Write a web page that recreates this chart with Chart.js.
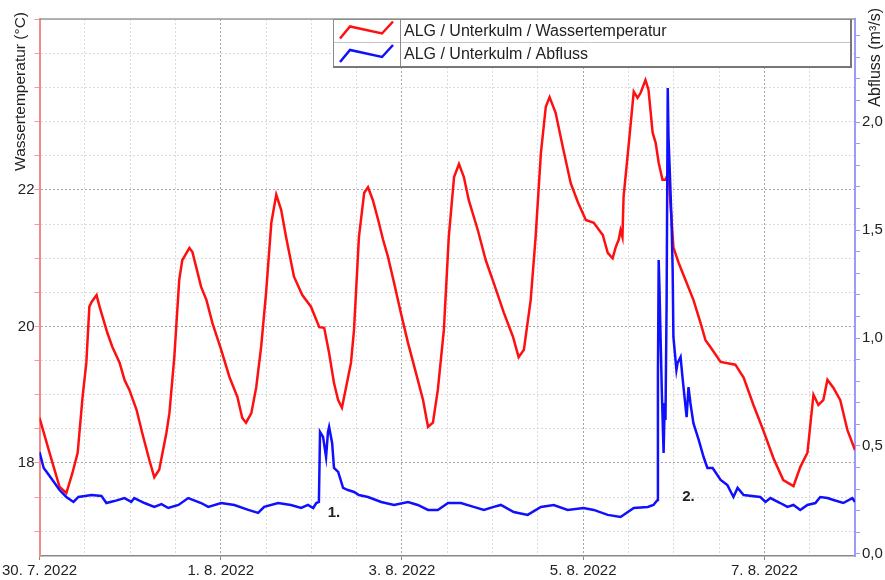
<!DOCTYPE html>
<html>
<head>
<meta charset="utf-8">
<script src="https://cdn.jsdelivr.net/npm/chart.js@4.4.1/dist/chart.umd.min.js"></script>
<style>
html, body { margin: 0; padding: 0; background: #fff; }
</style>
</head>
<body>
<canvas id="chart" width="885" height="580"></canvas>
<script>
// hours since 30. 7. 2022 00:00
const tempHours = [0, 2.6, 5.3, 7.1, 8.7, 10.1, 11.4, 12.4, 13.2, 13.8,
    15.1, 15.9, 16.7, 18.0, 19.3, 21.2, 22.5, 23.8, 25.7, 27.2,
    29.1, 30.4, 31.7, 33.6, 34.4, 35.7, 37.0, 37.8, 39.7, 40.5,
    41.5, 42.8, 44.2, 45.8, 48.1, 50.3, 52.4, 53.7, 54.7, 56.1,
    57.4, 58.7, 60.0, 61.4, 62.7, 64.0, 65.3, 67.4, 69.6, 71.9,
    74.1, 75.4, 76.7, 78.0, 79.1, 80.1, 81.2, 82.5, 83.3, 84.6,
    86.0, 87.0, 88.3, 89.7, 91.0, 92.3, 93.9, 95.7, 97.6, 99.7,
    101.6, 102.9, 104.2, 105.5, 107.1, 108.4, 109.8, 111.1, 112.4, 113.7,
    116.1, 118.2, 120.3, 123.0, 125.4, 126.9, 128.3, 130.1, 131.4, 132.8,
    134.1, 135.1, 136.7, 138.6, 140.7, 142.6, 144.7, 146.8, 149.2, 150.5,
    151.8, 152.6, 153.4, 153.9, 154.4, 154.7, 156.0, 157.4, 158.4, 159.2,
    160.5, 161.3, 162.4, 163.2, 164.0, 165.0, 165.8, 166.6, 167.1, 167.9,
    169.3, 170.6, 173.2, 175.1, 176.4, 177.7, 180.4, 184.3, 186.5, 189.1,
    191.7, 194.4, 197.0, 199.7, 201.5, 203.4, 205.0, 206.3, 207.6, 208.7,
    210.3, 212.1, 214.0, 216];
const tempValues = [18.66, 18.16, 17.65, 17.56, 17.85, 18.15, 18.97, 19.47, 20.29, 20.36,
    20.46, 20.29, 20.14, 19.90, 19.70, 19.47, 19.22, 19.07, 18.78, 18.44,
    18.04, 17.79, 17.90, 18.44, 18.73, 19.55, 20.68, 20.97, 21.15, 21.09,
    20.87, 20.58, 20.39, 20.05, 19.66, 19.26, 18.97, 18.66, 18.59, 18.73,
    19.11, 19.70, 20.49, 21.52, 21.93, 21.71, 21.31, 20.73, 20.46, 20.29,
    19.99, 19.98, 19.61, 19.17, 18.92, 18.81, 19.11, 19.47, 19.95, 21.31,
    21.96, 22.04, 21.85, 21.56, 21.27, 21.02, 20.64, 20.20, 19.76, 19.32,
    18.92, 18.53, 18.59, 19.07, 19.95, 21.31, 22.19, 22.38, 22.19, 21.85,
    21.41, 20.97, 20.64, 20.20, 19.85, 19.55, 19.66, 20.39, 21.31, 22.54,
    23.22, 23.36, 23.13, 22.63, 22.10, 21.82, 21.56, 21.52, 21.34, 21.08,
    21.00, 21.16, 21.27, 21.41, 21.31, 21.90, 22.63, 23.44, 23.35, 23.42,
    23.61, 23.47, 22.84, 22.69, 22.40, 22.15, 22.15, 22.25, 21.81, 21.16,
    20.93, 20.75, 20.39, 20.05, 19.80, 19.70, 19.48, 19.44, 19.25, 18.85,
    18.48, 18.07, 17.75, 17.66, 17.94, 18.15, 19.00, 18.85, 18.92, 19.22,
    19.10, 18.92, 18.48, 18.19];

const flowHours = [0, 1.1, 1.9, 4.0, 5.3, 7.1, 9.0, 10.3, 13.8, 16.4,
    17.7, 19.8, 22.5, 24.3, 25.1, 27.8, 30.4, 32.3, 34.1, 36.8,
    39.4, 42.8, 44.7, 48.1, 51.6, 55.3, 57.9, 59.5, 63.2, 66.6,
    69.3, 71.1, 72.5, 73.3, 74.0, 74.3, 75.1, 75.9, 76.4, 76.7,
    77.5, 78.0, 79.1, 80.4, 81.7, 83.3, 84.6, 87.0, 90.5, 93.9,
    97.6, 100.2, 102.9, 105.5, 108.2, 111.6, 115.0, 117.7, 120.3, 122.2,
    125.6, 129.3, 132.8, 136.2, 139.9, 144.1, 146.8, 150.5, 153.9, 157.4,
    161.1, 162.6, 163.7, 163.8, 164.0, 164.2, 164.8, 165.3, 165.6, 165.8,
    166.1, 166.4, 166.6, 166.9, 167.4, 167.7, 167.9, 168.7, 169.0, 169.8,
    170.3, 171.4, 171.9, 172.4, 173.2, 174.6, 175.9, 176.9, 178.3, 180.4,
    182.2, 183.8, 184.9, 186.5, 190.9, 192.3, 193.6, 196.2, 198.1, 199.7,
    201.5, 203.4, 205.5, 206.8, 208.7, 210.3, 212.9, 215.3, 216];
const flowValues = [0.472, 0.398, 0.380, 0.329, 0.296, 0.264, 0.241, 0.264, 0.273, 0.269,
    0.236, 0.245, 0.259, 0.241, 0.259, 0.236, 0.218, 0.231, 0.213, 0.227,
    0.259, 0.236, 0.218, 0.236, 0.227, 0.204, 0.190, 0.218, 0.236, 0.227,
    0.213, 0.227, 0.213, 0.236, 0.241, 0.565, 0.542, 0.449, 0.565, 0.588,
    0.514, 0.398, 0.380, 0.306, 0.296, 0.287, 0.273, 0.264, 0.241, 0.227,
    0.241, 0.227, 0.204, 0.204, 0.236, 0.236, 0.218, 0.204, 0.218, 0.227,
    0.194, 0.181, 0.218, 0.227, 0.204, 0.213, 0.204, 0.181, 0.171, 0.213,
    0.218, 0.227, 0.250, 0.819, 1.361, 1.236, 0.773, 0.468, 0.699, 0.620,
    1.162, 2.157, 1.931, 1.792, 1.546, 1.315, 1.005, 0.852, 0.884, 0.912,
    0.819, 0.634, 0.773, 0.699, 0.606, 0.528, 0.449, 0.398, 0.398, 0.343,
    0.319, 0.264, 0.306, 0.273, 0.264, 0.241, 0.259, 0.236, 0.218, 0.227,
    0.204, 0.227, 0.236, 0.264, 0.259, 0.250, 0.236, 0.259, 0.241];

const seriesNames = ['ALG / Unterkulm / Wassertemperatur', 'ALG / Unterkulm / Abfluss'];
const axisTitles = ['Wassertemperatur (°C)', 'Abfluss (m³/s)'];
const tempTickLabels = [18, 20, 22];
const flowTickLabels = [0, 0.5, 1.0, 1.5, 2.0];
const annoLabels = ['1.', '2.'];
const annoHours = [78.0, 171.9];
const annoFlow = [0.19, 0.264];

const FONT = '"Liberation Sans", Arial, sans-serif';
const RED = '#ff1010';
const BLUE = '#1010ff';

function dateLabel(h) {
    if (h % 48 !== 0) return '';
    let day = 30 + h / 24, month = 7;
    if (day > 31) { day -= 31; month = 8; }
    return day + '. ' + month + '. 2022';
}

const isIn = (list, v) => list.some(t => Math.abs(t - v) < 1e-6);

const decor = {
    id: 'decor',
    afterDraw(chart) {
        const { ctx, chartArea: a, scales } = chart;
        ctx.save();

        // top frame line
        ctx.strokeStyle = '#999';
        ctx.lineWidth = 1.5;
        ctx.beginPath();
        ctx.moveTo(a.left, a.top);
        ctx.lineTo(a.right, a.top);
        ctx.stroke();

        // axis titles, both read bottom to top, aligned at the top
        ctx.fillStyle = '#222';
        ctx.textBaseline = 'middle';
        ctx.textAlign = 'right';
        ctx.save();
        ctx.font = '15.5px ' + FONT;
        ctx.translate(21, 12);
        ctx.rotate(-Math.PI / 2);
        ctx.fillText(axisTitles[0], 0, 0);
        ctx.restore();
        ctx.save();
        ctx.font = '16px ' + FONT;
        ctx.translate(876, 8);
        ctx.rotate(-Math.PI / 2);
        ctx.fillText(axisTitles[1], 0, 0);
        ctx.restore();

        // numbered notes
        ctx.font = 'bold 15px ' + FONT;
        ctx.textAlign = 'center';
        annoLabels.forEach((t, i) => {
            ctx.fillText(t, scales.x.getPixelForValue(annoHours[i]), scales.y1.getPixelForValue(annoFlow[i]));
        });

        // legend box
        const bx = 333, by = 19, bw = 517, bh = 47, iconW = 67;
        ctx.fillStyle = '#fff';
        ctx.fillRect(bx, by, bw, bh);
        ctx.strokeStyle = '#c4c4c4';
        ctx.lineWidth = 1;
        ctx.beginPath();
        ctx.moveTo(bx, by + 23.5);
        ctx.lineTo(bx + bw, by + 23.5);
        ctx.stroke();
        ctx.strokeStyle = '#8a8a8a';
        ctx.beginPath();
        ctx.moveTo(bx + iconW + 0.5, by);
        ctx.lineTo(bx + iconW + 0.5, by + bh);
        ctx.stroke();
        ctx.strokeRect(bx + 0.5, by + 0.5, bw, bh);
        ctx.lineWidth = 2;
        ctx.strokeStyle = '#777';
        ctx.beginPath();
        ctx.moveTo(bx, by + bh + 1);
        ctx.lineTo(bx + bw + 1, by + bh + 1);
        ctx.lineTo(bx + bw + 1, by);
        ctx.stroke();

        chart.data.datasets.forEach((ds, i) => {
            const cy = by + 11.5 + i * 23.5;
            ctx.strokeStyle = ds.borderColor;
            ctx.lineWidth = 2.5;
            ctx.beginPath();
            ctx.moveTo(bx + 7, cy + 8);
            ctx.lineTo(bx + 17, cy - 4);
            ctx.lineTo(bx + 49, cy + 3);
            ctx.lineTo(bx + 60, cy - 9);
            ctx.stroke();
            ctx.fillStyle = '#222';
            ctx.font = '16px ' + FONT;
            ctx.textAlign = 'left';
            ctx.textBaseline = 'middle';
            ctx.fillText(ds.label, bx + iconW + 4, cy + 1);
        });
        ctx.restore();
    }
};

new Chart(document.getElementById('chart').getContext('2d'), {
    type: 'line',
    data: {
        datasets: [{
            label: seriesNames[0],
            data: tempHours.map((h, i) => ({ x: h, y: tempValues[i] })),
            yAxisID: 'y',
            borderColor: RED,
            borderWidth: 2.5,
            pointRadius: 0,
            tension: 0,
            order: 2
        }, {
            label: seriesNames[1],
            data: flowHours.map((h, i) => ({ x: h, y: flowValues[i] })),
            yAxisID: 'y1',
            borderColor: BLUE,
            borderWidth: 2.5,
            pointRadius: 0,
            tension: 0,
            order: 1
        }]
    },
    options: {
        responsive: false,
        animation: false,
        layout: { padding: { top: 19, left: 0, right: 0, bottom: 0 } },
        plugins: {
            legend: { display: false },
            tooltip: { enabled: false }
        },
        scales: {
            x: {
                type: 'linear',
                min: 0,
                max: 216,
                afterFit: s => { s.height = 24; },
                ticks: {
                    stepSize: 12,
                    autoSkip: false,
                    maxRotation: 0,
                    padding: 2,
                    color: '#222',
                    font: { family: FONT, size: 15 },
                    callback: v => dateLabel(v)
                },
                grid: {
                    color: c => (c.tick && c.tick.value % 48 === 0) ? '#a4a4a4' : '#dadada',
                    tickColor: c => (c.tick && c.tick.value % 48 === 0) ? '#888' : 'rgba(0,0,0,0)',
                    tickLength: 4
                },
                border: { color: '#888', width: 1.5, dash: [2, 2] }
            },
            y: {
                position: 'left',
                min: 16.637,
                max: 24.505,
                afterFit: s => { s.width = 38; },
                afterBuildTicks: s => {
                    const t = [];
                    for (let k = 34; k <= 49; k++) t.push({ value: k / 2 });
                    s.ticks = t;
                },
                ticks: {
                    autoSkip: false,
                    padding: 0,
                    color: '#222',
                    font: { family: FONT, size: 15 },
                    callback: v => isIn(tempTickLabels, v) ? String(Math.round(v)) : ''
                },
                grid: {
                    color: c => (c.tick && isIn(tempTickLabels, c.tick.value)) ? '#a4a4a4' : '#dadada',
                    tickColor: '#f09a9a',
                    tickLength: 5
                },
                border: { color: '#f08c8c', width: 2, dash: [2, 2] }
            },
            y1: {
                position: 'right',
                min: -0.0093,
                max: 2.477,
                afterFit: s => { s.width = 30; },
                afterBuildTicks: s => {
                    const t = [];
                    for (let k = 0; k <= 24; k++) t.push({ value: k / 10 });
                    s.ticks = t;
                },
                ticks: {
                    autoSkip: false,
                    padding: 2,
                    color: '#222',
                    font: { family: FONT, size: 15 },
                    callback: v => isIn(flowTickLabels, v) ? v.toFixed(1).replace('.', ',') : ''
                },
                grid: {
                    drawOnChartArea: false,
                    tickColor: '#9a9aff',
                    tickLength: 5
                },
                border: { color: '#9a9aff', width: 2 }
            }
        }
    },
    plugins: [decor]
});
</script>
</body>
</html>
